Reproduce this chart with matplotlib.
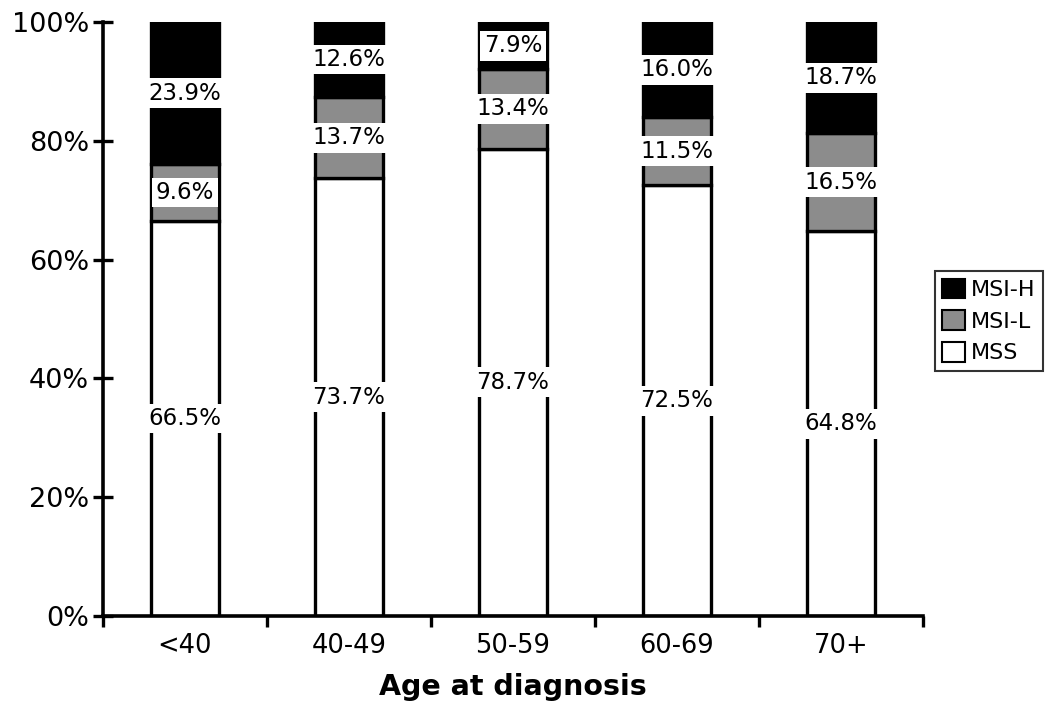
import numpy as np
import matplotlib
matplotlib.use('Agg')
from matplotlib import pyplot as plt

plt.rcParams['font.family'] = 'DejaVu Sans'

ages = ['<40', '40-49', '50-59', '60-69', '70+']
mss = [66.5, 73.7, 78.7, 72.5, 64.8]
msi_l = [9.6, 13.7, 13.4, 11.5, 16.5]
msi_h = [23.9, 12.6, 7.9, 16.0, 18.7]

fig = plt.figure(figsize=(10.5, 7.13), dpi=100)
ax = fig.add_axes([0.098, 0.136, 0.781, 0.833])

x = np.arange(len(ages))
w = 0.41
lw = 2.4
mss_arr = np.array(mss)
msil_arr = np.array(msi_l)
msih_arr = np.array(msi_h)

b1 = ax.bar(x, mss_arr, w, color='white', edgecolor='black', linewidth=lw, label='MSS', zorder=2)
b2 = ax.bar(x, msil_arr, w, bottom=mss_arr, color='#8c8c8c', edgecolor='black', linewidth=lw,
            label='MSI-L', zorder=2)
b3 = ax.bar(x, msih_arr, w, bottom=mss_arr + msil_arr, color='black', edgecolor='black',
            linewidth=lw, label='MSI-H', zorder=2)

# value labels with white boxes in the middle of each segment
for i in x:
    segs = [(0, mss[i]), (mss[i], msi_l[i]), (mss[i] + msi_l[i], msi_h[i])]
    for bottom, val in segs:
        ax.text(i, bottom + val / 2, f'{val:.1f}%', ha='center', va='center', fontsize=16.5,
                zorder=3, bbox=dict(facecolor='white', edgecolor='none', pad=2.5))

ax.set_xlim(-0.5, len(ages) - 0.5)
ax.set_ylim(0, 100)
ax.set_yticks(np.arange(0, 101, 20))
ax.set_yticklabels([f'{v}%' for v in range(0, 101, 20)], fontsize=19.5)
ax.tick_params(axis='y', direction='inout', length=14, width=2.4, pad=3)

ax.set_xticks(np.arange(-0.5, len(ages), 1))
ax.set_xticklabels([])
ax.tick_params(axis='x', which='major', direction='out', length=8, width=2.4)
ax.set_xticks(x, minor=True)
ax.set_xticklabels(ages, minor=True, fontsize=18.5)
ax.tick_params(axis='x', which='minor', length=0, pad=12)

for s in ['top', 'right']:
    ax.spines[s].set_visible(False)
for s in ['left', 'bottom']:
    ax.spines[s].set_linewidth(2.6)

ax.set_xlabel('Age at diagnosis', fontsize=20.5, fontweight='bold', labelpad=10)

leg = fig.legend([b3, b2, b1], ['MSI-H', 'MSI-L', 'MSS'], loc='center left',
                 bbox_to_anchor=(0.89, 0.55), fontsize=16, frameon=True, fancybox=False,
                 handlelength=1.0, handleheight=1.0, handletextpad=0.3, borderpad=0.35,
                 labelspacing=0.45, borderaxespad=0)
leg.get_frame().set_edgecolor('black')
leg.get_frame().set_linewidth(1.5)
for h in leg.legend_handles:
    h.set_linewidth(1.5)

plt.savefig('out.png', dpi=100)
